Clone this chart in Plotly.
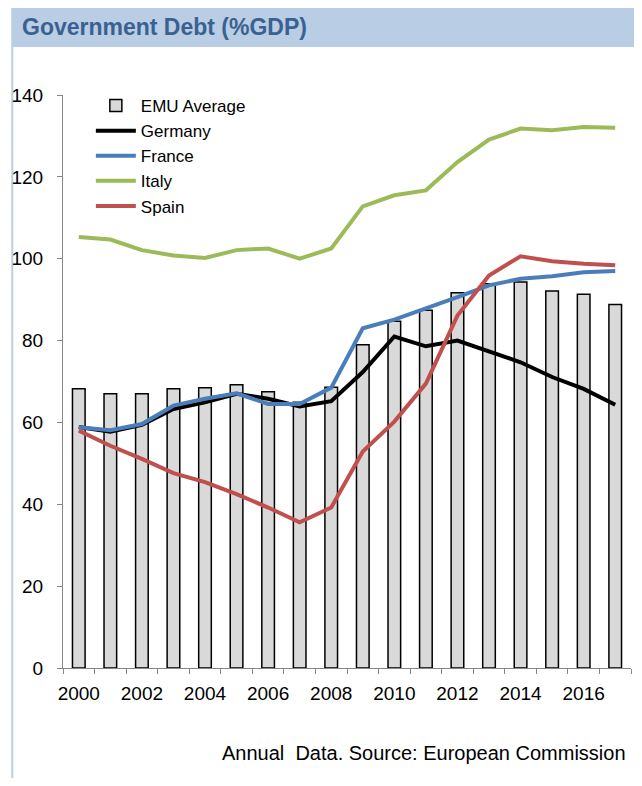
import plotly.graph_objects as go

years = list(range(2000, 2018))
emu_average = [68.2, 67.0, 67.0, 68.2, 68.5, 69.2, 67.5, 64.9, 68.6, 79.0, 84.7, 87.4, 91.7, 93.9, 94.3, 92.1, 91.3, 88.8]
germany = [58.9, 57.7, 59.4, 63.3, 64.9, 67.0, 65.8, 63.9, 65.2, 72.3, 81.0, 78.6, 80.0, 77.3, 74.7, 71.1, 68.2, 64.3]
france = [58.8, 58.1, 59.6, 64.1, 65.8, 67.1, 64.5, 64.5, 68.5, 83.0, 85.1, 87.8, 90.6, 93.5, 95.1, 95.7, 96.7, 97.0]
italy = [105.3, 104.7, 102.1, 100.8, 100.2, 102.1, 102.5, 100.0, 102.5, 112.8, 115.5, 116.7, 123.6, 129.1, 131.8, 131.4, 132.2, 132.0]
spain = [58.0, 54.3, 51.1, 47.6, 45.4, 42.5, 39.2, 35.6, 39.2, 52.9, 60.2, 69.5, 86.1, 95.9, 100.6, 99.4, 98.8, 98.4]
x_tick_labels = [str(y) for y in range(2000, 2017, 2)]
y_ticks = [0, 20, 40, 60, 80, 100, 120, 140]

FONT = "Arial, Liberation Sans, sans-serif"
AXIS_GRAY = "#868686"
BAR_BLUE = "#B9CDE5"

fig = go.Figure()
fig.add_trace(go.Bar(
    x=years, y=emu_average, name="EMU Average", width=0.4,
    marker=dict(color="#D9D9D9", line=dict(color="black", width=1.5)),
))
for name, vals, col in [("Germany", germany, "#000000"),
                        ("France", france, "#4A7EBB"),
                        ("Italy", italy, "#9BBB59"),
                        ("Spain", spain, "#C0504D")]:
    fig.add_trace(go.Scatter(x=years, y=vals, name=name, mode="lines",
                             line=dict(color=col, width=4)))

# page body has an 8px margin on every side; size the figure to fit inside it
OFF = 8
W, H = 642 - 2 * OFF, 786 - 2 * OFF
L = 60 - OFF
T = 95 - OFF
R = W - (631 - OFF)
B = H - (668 - OFF)
pw, ph = W - L - R, H - T - B

def px(x):
    return (x - OFF - L) / pw

def py(y):
    return (H - B - (y - OFF)) / ph

boundaries = [y - 0.5 for y in years] + [years[-1] + 0.5]

fig.update_layout(
    width=W, height=H,
    margin=dict(l=L, r=R, t=T, b=B, pad=0),
    paper_bgcolor="white", plot_bgcolor="white",
    font=dict(family=FONT, size=18, color="black"),
    showlegend=True,
    legend=dict(x=px(88), y=py(88), xanchor="left", yanchor="top",
                bgcolor="rgba(0,0,0,0)", font=dict(size=17, family=FONT),
                tracegroupgap=0, itemwidth=40),
    xaxis=dict(
        range=[years[0] - 0.5, years[-1] + 0.5],
        tickmode="array",
        tickvals=[int(t) for t in x_tick_labels],
        ticktext=x_tick_labels,
        ticks="", showgrid=False, zeroline=False,
        showline=True, linecolor=AXIS_GRAY, linewidth=1,
        tickfont=dict(size=19, family=FONT),
        ticklabelstandoff=8,
        minor=dict(tickmode="array", tickvals=boundaries, ticks="outside",
                   ticklen=5, tickcolor=AXIS_GRAY, tickwidth=1, showgrid=False),
    ),
    yaxis=dict(
        range=[0, 140], tickmode="array", tickvals=y_ticks,
        ticks="outside", ticklen=5, tickcolor=AXIS_GRAY, tickwidth=1,
        showgrid=False, zeroline=False,
        showline=True, linecolor=AXIS_GRAY, linewidth=1,
        tickfont=dict(size=19, family=FONT),
        ticklabelstandoff=10,
    ),
    shapes=[
        dict(type="rect", xref="paper", yref="paper",
             x0=px(8), x1=px(642), y0=py(47), y1=py(8),
             fillcolor=BAR_BLUE, line=dict(width=0), layer="below"),
        dict(type="line", xref="paper", yref="paper",
             x0=px(9), x1=px(9), y0=py(47), y1=py(786),
             line=dict(color=BAR_BLUE, width=2), layer="below"),
    ],
    annotations=[
        dict(text="<b>Government Debt (%GDP)</b>", xref="paper", yref="paper",
             x=px(17), y=py(27), xanchor="left", yanchor="middle",
             showarrow=False, font=dict(size=23, color="#3A6190", family=FONT)),
        dict(text="Annual  Data. Source: European Commission", xref="paper", yref="paper",
             x=px(628), y=py(753), xanchor="right", yanchor="middle",
             showarrow=False, font=dict(size=20, color="black", family=FONT)),
    ],
)

fig.write_html("out.html")
